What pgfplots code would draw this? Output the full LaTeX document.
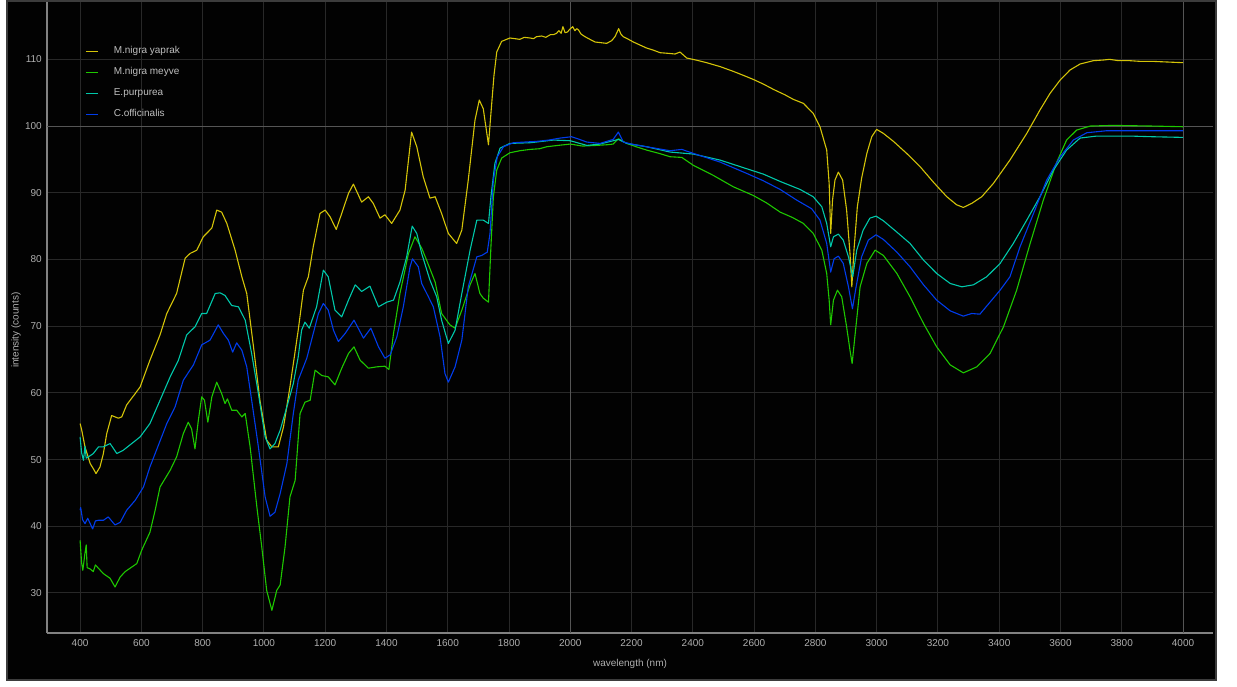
\documentclass[border=0pt]{standalone}
\usepackage{pgfplots}
\pgfplotsset{compat=1.18}
\usepackage{fontspec}
\setmainfont{Liberation Sans}
\definecolor{bgd}{RGB}{2,2,2}
\definecolor{framec}{RGB}{60,60,60}
\definecolor{axisc}{RGB}{130,130,130}
\definecolor{gridc}{RGB}{40,40,40}
\definecolor{gridm}{RGB}{85,85,85}
\definecolor{lbl}{RGB}{175,175,175}
\definecolor{lgd}{RGB}{190,190,190}
\definecolor{cy}{RGB}{212,196,8}
\definecolor{cg}{RGB}{30,200,0}
\definecolor{cc}{RGB}{0,200,170}
\definecolor{cb}{RGB}{0,60,235}
\begin{document}
\begin{tikzpicture}[x=1pt,y=1pt]
\path[use as bounding box] (0,0) rectangle (1237,686);
\fill[white] (0,0) rectangle (1237,686);
\fill[bgd] (6,5) rectangle (1217,686);
\draw[framec, line width=2pt] (7,6) -- (7,685) -- (1216,685) -- (1216,6) -- cycle;
\begin{axis}[
  at={(47pt,53pt)}, anchor=south west,
  scale only axis, width=1166pt, height=631pt,
  xmin=292, xmax=4098, ymin=24, ymax=118.6,
  axis x line*=bottom, axis y line*=left,
  axis line style={-, draw=axisc, line width=1.5pt},
  xtick={400,600,...,4000}, ytick={30,40,...,110},
  major tick length=0pt, tick style={draw=none},
  grid=major, major grid style={draw=gridc, line width=1pt},
  extra x ticks={2000,4000}, extra x tick labels={},
  extra x tick style={grid=major, major grid style={draw=gridm, line width=1pt}},
  extra y ticks={100}, extra y tick labels={},
  extra y tick style={grid=major, major grid style={draw=gridm, line width=1pt}},
  /pgf/number format/assume math mode=true,
  /pgf/number format/1000 sep={},
  x tick label style={font=\fontsize{10}{12}\selectfont, text=lbl, yshift=-2.7pt},
  y tick label style={font=\fontsize{10}{12}\selectfont, text=lbl, xshift=-1.7pt},
  xlabel={wavelength (nm)}, ylabel={intensity (counts)},
  xlabel style={font=\fontsize{10}{12}\selectfont, text=lbl, at={(axis description cs:0.5,-0.049)}, anchor=center},
  ylabel style={font=\fontsize{10}{12}\selectfont, text=lbl, at={(axis description cs:-0.0266,0.48)}, anchor=center, rotate=0},
  legend style={at={(0.0326,0.9295)}, anchor=north west, draw=none, fill=none, text=lgd,
    font=\fontsize{10}{12}\selectfont, inner sep=0pt, row sep=12pt,
    nodes={inner sep=0pt, text height=7pt, text depth=2pt}, cells={anchor=west}},
  legend image code/.code={\draw[#1, line width=1.2pt] (0pt,0pt) -- (12pt,0pt); \path[draw=none,fill=none] (0pt,0pt) -- (28pt,0pt);},
  every axis plot/.append style={line width=1.1pt, line join=round},
]
\addplot[cy] coordinates {
(400,55.4)(405,54.5)(416,51.9)(433,49.4)(445,48.5)(452,47.9)(465,48.9)(476,50.9)(487,53.9)(503,56.6)
(525,56.2)(536,56.4)(552,58.2)(580,59.9)(596,60.9)(628,64.9)(661,68.7)(683,71.9)(715,74.9)(743,80.2)
(759,80.9)(781,81.4)(802,83.4)(830,84.7)(846,87.4)(862,87.1)(879,85.4)(906,81.4)(928,77.4)(944,74.9)
(966,66.9)(987,58.9)(1009,52.9)(1026,51.9)(1047,51.9)(1064,54.9)(1085,60.9)(1112,69.4)(1129,75.4)(1145,77.4)
(1161,81.9)(1183,86.9)(1200,87.4)(1216,86.4)(1236,84.5)(1254,86.9)(1276,89.9)(1292,91.3)(1319,88.6)(1341,89.4)
(1357,88.4)(1379,86.2)(1395,86.7)(1417,85.4)(1444,87.4)(1461,90.4)(1482,99.1)(1499,96.9)(1520,92.4)(1542,89.2)
(1559,89.4)(1580,86.9)(1602,83.9)(1629,82.4)(1646,84.4)(1667,91.9)(1689,100.9)(1703,103.9)(1716,102.6)(1733,97.2)
(1741,101.9)(1751,107.6)(1760,111.1)(1776,112.7)(1803,113.2)(1820,113.1)(1835,113.0)(1850,113.3)(1869,113.2)(1880,113.1)
(1890,113.4)(1907,113.5)(1920,113.3)(1935,113.7)(1945,113.7)(1955,113.9)(1963,114.3)(1970,113.9)(1976,114.9)(1983,114.0)
(1991,114.1)(1998,114.5)(2008,114.9)(2015,114.3)(2021,114.6)(2027,114.4)(2035,113.8)(2048,113.4)(2060,113.1)(2081,112.6)
(2100,112.5)(2119,112.4)(2135,112.8)(2146,113.4)(2158,114.6)(2165,113.8)(2173,113.4)(2190,113.0)(2206,112.6)(2225,112.2)
(2249,111.7)(2270,111.4)(2293,111.0)(2320,110.9)(2342,110.8)(2358,111.1)(2380,110.2)(2410,109.9)(2445,109.5)(2490,108.9)
(2532,108.2)(2565,107.6)(2597,107.0)(2630,106.3)(2663,105.5)(2700,104.7)(2728,104.0)(2761,103.4)(2793,101.9)(2815,99.9)
(2837,96.4)(2845,91.4)(2850,83.9)(2856,88.9)(2864,91.9)(2875,93.1)(2889,91.9)(2902,87.4)(2913,80.9)(2919,75.9)
(2926,81.4)(2937,87.9)(2951,92.2)(2968,95.9)(2984,98.4)(3000,99.5)(3022,98.9)(3055,97.7)(3098,95.9)(3142,93.9)
(3185,91.6)(3229,89.4)(3261,88.2)(3283,87.8)(3310,88.4)(3343,89.4)(3381,91.4)(3435,94.9)(3490,98.9)(3533,102.4)
(3566,104.9)(3599,106.9)(3631,108.4)(3664,109.3)(3707,109.8)(3740,109.9)(3760,110.0)(3790,109.8)(3827,109.8)(3860,109.7)
(3900,109.7)(3950,109.6)(4000,109.5)
};
\addlegendentry{M.nigra yaprak}
\addplot[cg] coordinates {
(400,37.9)(405,34.5)(409,33.4)(416,36.0)(420,37.2)(423,33.8)(433,33.6)(443,33.2)(450,34.2)(460,33.7)
(476,32.9)(498,32.2)(514,30.9)(531,32.4)(547,33.2)(569,33.9)(585,34.4)(601,36.4)(628,39.1)(645,42.4)
(661,45.9)(694,48.4)(715,50.4)(737,53.9)(753,55.6)(764,54.6)(775,51.6)(786,55.9)(797,59.4)(806,58.9)
(817,55.6)(830,59.4)(846,61.6)(862,59.9)(873,58.4)(881,59.1)(895,57.4)(911,57.4)(928,56.4)(939,56.9)
(955,51.9)(977,42.9)(993,36.9)(1009,30.4)(1026,27.4)(1042,30.4)(1053,31.2)(1069,36.9)(1085,44.4)(1102,46.9)
(1118,56.9)(1134,58.6)(1151,58.9)(1167,63.4)(1189,62.6)(1210,62.4)(1232,61.2)(1254,63.7)(1276,65.9)(1294,66.9)
(1314,64.9)(1341,63.7)(1368,63.9)(1395,64.0)(1408,63.5)(1423,68.9)(1444,74.9)(1472,80.9)(1493,83.4)(1515,81.7)
(1531,79.9)(1559,76.6)(1580,71.9)(1607,70.2)(1624,69.7)(1646,72.4)(1673,76.2)(1689,77.9)(1705,74.9)(1716,74.2)
(1733,73.6)(1741,81.9)(1749,89.4)(1760,93.4)(1776,95.2)(1803,96.0)(1835,96.3)(1869,96.5)(1900,96.6)(1923,96.9)
(1960,97.1)(2000,97.3)(2040,97.0)(2086,97.1)(2120,97.2)(2140,97.3)(2157,98.1)(2184,97.4)(2215,96.9)(2249,96.4)
(2290,95.9)(2326,95.4)(2364,95.3)(2402,94.1)(2467,92.6)(2532,90.9)(2597,89.6)(2640,88.5)(2685,87.1)(2725,86.3)
(2761,85.4)(2793,83.9)(2821,81.4)(2837,77.9)(2845,73.9)(2850,70.2)(2859,73.9)(2872,75.4)(2886,74.4)(2902,69.9)
(2913,66.4)(2920,64.4)(2930,68.9)(2946,75.9)(2968,79.4)(2995,81.4)(3022,80.6)(3066,77.9)(3109,74.4)(3153,70.4)
(3196,66.9)(3240,64.2)(3283,63.0)(3327,63.9)(3370,65.9)(3414,69.9)(3457,75.4)(3501,82.4)(3544,88.9)(3588,94.6)
(3620,97.9)(3653,99.4)(3697,100.0)(3773,100.1)(3900,100.0)(4000,99.9)
};
\addlegendentry{M.nigra meyve}
\addplot[cc] coordinates {
(400,53.4)(405,51.0)(411,49.9)(416,52.0)(420,50.2)(427,50.4)(443,50.9)(460,51.9)(476,51.9)(498,52.4)
(520,50.9)(541,51.4)(563,52.2)(596,53.4)(628,55.4)(661,58.9)(694,62.4)(721,64.9)(748,68.7)(775,69.9)
(797,71.9)(813,71.9)(841,74.9)(857,75.0)(873,74.6)(895,73.1)(917,72.9)(939,70.9)(960,65.9)(982,59.9)
(1004,53.4)(1020,51.6)(1036,52.4)(1053,54.4)(1075,57.9)(1096,61.4)(1112,65.4)(1123,69.4)(1134,70.6)(1148,69.7)
(1172,72.9)(1194,78.4)(1210,77.4)(1232,72.4)(1254,71.4)(1276,73.9)(1298,76.2)(1319,75.2)(1346,76.0)(1374,72.9)
(1401,73.6)(1423,73.9)(1444,76.6)(1466,80.4)(1484,85.0)(1499,83.9)(1515,80.9)(1542,76.9)(1564,74.4)(1580,70.9)
(1602,67.4)(1624,69.4)(1646,74.9)(1673,81.4)(1695,85.9)(1716,85.9)(1733,85.4)(1741,89.4)(1754,94.4)(1771,96.7)
(1803,97.4)(1869,97.5)(1945,97.9)(2000,97.8)(2054,97.1)(2097,97.3)(2157,98.0)(2184,97.4)(2249,96.9)(2326,96.1)
(2402,95.8)(2489,94.9)(2576,93.6)(2630,92.8)(2685,91.7)(2750,90.5)(2793,89.4)(2821,87.9)(2837,85.4)(2850,81.9)(2859,83.4)
(2875,83.8)(2891,82.9)(2908,80.4)(2922,77.4)(2935,81.4)(2956,84.4)(2978,86.2)(2998,86.5)(3022,85.8)(3066,84.1)
(3109,82.4)(3153,79.9)(3196,77.9)(3240,76.4)(3278,75.9)(3316,76.2)(3359,77.4)(3403,79.4)(3446,82.4)(3490,85.9)
(3533,89.4)(3577,93.4)(3620,96.4)(3664,98.2)(3718,98.5)(3827,98.5)(3900,98.4)(4000,98.3)
};
\addlegendentry{E.purpurea}
\addplot[cb] coordinates {
(400,42.4)(402,42.8)(408,41.0)(416,40.4)(425,41.2)(433,40.4)(441,39.6)(450,40.8)(460,40.9)(476,40.9)
(492,41.4)(514,40.2)(531,40.6)(552,42.4)(580,43.9)(607,45.9)(628,48.9)(656,52.2)(683,55.4)(710,57.9)
(737,61.9)(770,64.2)(797,67.2)(824,67.9)(851,70.2)(868,68.9)(884,67.9)(898,66.1)(911,67.5)(928,66.4)
(944,63.9)(960,58.9)(982,51.9)(1004,44.4)(1020,41.5)(1036,42.1)(1053,44.9)(1075,49.4)(1096,56.9)(1112,61.9)
(1129,63.9)(1140,65.2)(1161,68.9)(1178,71.9)(1194,73.4)(1210,72.4)(1227,69.4)(1243,67.7)(1265,68.9)(1294,70.9)
(1325,68.2)(1349,69.7)(1374,66.9)(1395,65.2)(1412,65.7)(1434,68.4)(1455,72.9)(1477,78.9)(1485,80.1)(1504,78.9)
(1515,76.4)(1537,74.4)(1553,72.9)(1575,68.4)(1591,62.9)(1602,61.6)(1624,63.9)(1646,67.9)(1667,75.9)(1695,80.4)
(1711,80.6)(1729,81.1)(1738,83.9)(1749,91.9)(1762,95.4)(1782,96.9)(1814,97.5)(1850,97.6)(1890,97.7)(1930,97.9)
(1967,98.2)(2004,98.4)(2030,98.0)(2054,97.6)(2097,97.4)(2140,98.0)(2157,99.1)(2173,97.6)(2210,97.2)(2249,96.9)
(2326,96.3)(2364,96.5)(2402,95.9)(2489,94.6)(2576,92.9)(2630,91.8)(2685,90.5)(2739,88.9)(2788,87.6)(2815,85.9)
(2837,82.4)(2850,78.1)(2861,80.1)(2875,80.5)(2891,79.4)(2908,75.9)(2921,72.6)(2933,75.9)(2951,80.4)(2973,82.9)
(2998,83.7)(3022,83.0)(3066,81.1)(3109,78.9)(3153,76.2)(3196,73.9)(3240,72.3)(3283,71.5)(3310,71.9)(3337,71.8)
(3370,73.6)(3403,75.4)(3435,77.4)(3468,81.9)(3512,86.9)(3555,91.9)(3599,95.4)(3642,97.9)(3686,99.0)(3751,99.3)
(4000,99.3)
};
\addlegendentry{C.officinalis}
\end{axis}
\end{tikzpicture}
\end{document}
